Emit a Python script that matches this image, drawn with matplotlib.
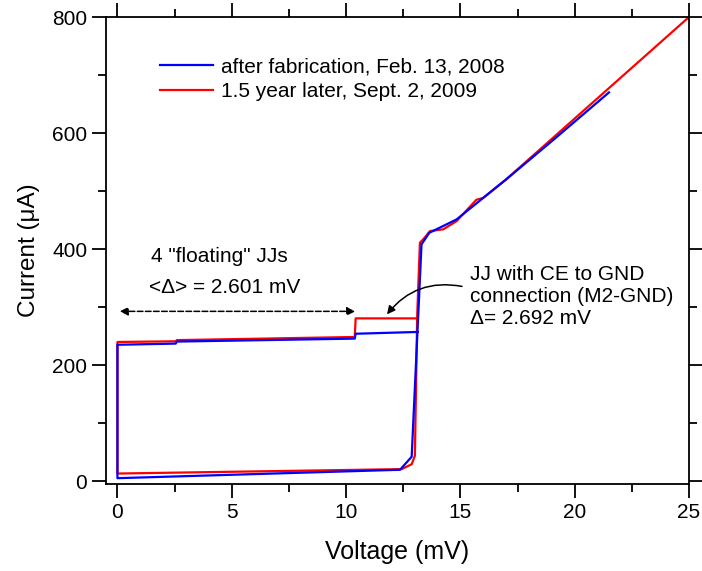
import matplotlib.pyplot as plt
from matplotlib.ticker import MultipleLocator

plt.rcParams['font.family'] = ['Liberation Sans', 'DejaVu Sans']

# I-V trace right after fabrication (mV, uA)
v_fab = [21.5, 19.0, 17.0, 14.83, 13.64, 13.3, 12.87, 12.36, 0.0,
         0.0, 2.55, 2.6, 10.38, 10.42, 13.06, 13.12]
i_fab = [670, 586, 520, 451, 428, 408, 42, 19.5, 5,
         235, 237, 240.5, 245.6, 254, 257, 257]

# I-V trace 1.5 years later
v_late = [25.0, 20.0, 17.0, 15.99, 15.7, 14.83, 14.25, 13.67, 13.37, 13.23,
          13.11, 13.01, 12.87, 12.43, 0.0,
          0.0, 2.55, 2.6, 10.38, 10.42, 13.01, 13.08]
i_late = [800, 625, 520, 488, 485, 448, 434, 431, 416.5, 411,
          284, 43.6, 29, 20.6, 13,
          239.8, 241, 243, 248.4, 280.5, 280.5, 280.5]

fig = plt.figure(figsize=(7.02, 5.71), dpi=100)
ax = fig.add_axes([0.151, 0.1524, 0.8305, 0.8178])

ax.plot(v_fab, i_fab, color='#0000ff', lw=1.6, zorder=3,
        label='after fabrication, Feb. 13, 2008')
ax.plot(v_late, i_late, color='#ff0000', lw=1.6,
        label='1.5 year later, Sept. 2, 2009')

ax.set_xlim(-0.5, 25)
ax.set_ylim(-5, 800)
ax.xaxis.set_major_locator(MultipleLocator(5))
ax.xaxis.set_minor_locator(MultipleLocator(2.5))
ax.yaxis.set_major_locator(MultipleLocator(200))
ax.yaxis.set_minor_locator(MultipleLocator(100))

ax.tick_params(which='both', labelsize=15, width=1.3)
ax.tick_params(which='major', length=10)
ax.tick_params(which='minor', length=6)
ax.tick_params(which='both', top=True, right=True, direction='out')
# top and right ticks point into the plot
for t in ax.xaxis.get_ticklines(minor=False)[1::2] + ax.xaxis.get_ticklines(minor=True)[1::2]:
    t.set_marker(2)
for t in ax.yaxis.get_ticklines(minor=False)[1::2] + ax.yaxis.get_ticklines(minor=True)[1::2]:
    t.set_marker(1)
for s in ax.spines.values():
    s.set_linewidth(1.3)

ax.set_xlabel('Voltage (mV)', fontsize=18, labelpad=13)
ax.set_ylabel('Current (\u03bcA)', fontsize=17.5, labelpad=9)

ax.legend(loc='upper left', bbox_to_anchor=(0.093, 0.914), frameon=False,
          fontsize=15, handlelength=2.55, handletextpad=0.37,
          labelspacing=0.29, borderpad=0, borderaxespad=0)

ax.text(1.47, 387, '4 "floating" JJs', fontsize=15, va='center')
ax.text(1.40, 334, '<\u0394> = 2.601 mV', fontsize=15, va='center')
ax.annotate('', xy=(0.1, 292.6), xytext=(10.4, 292.6),
            arrowprops=dict(arrowstyle='<|-|>', ls='--', lw=1.1,
                            color='black', mutation_scale=12,
                            shrinkA=0, shrinkB=0))

ax.text(15.4, 318, 'JJ with CE to GND\nconnection (M2-GND)\n\u0394= 2.692 mV',
        fontsize=15, va='center', linespacing=1.2)
ax.annotate('', xy=(11.79, 287.4), xytext=(15.07, 335.6),
            arrowprops=dict(arrowstyle='-|>', lw=1.1, color='black',
                            mutation_scale=12, shrinkA=0, shrinkB=0,
                            connectionstyle='arc3,rad=0.3'))

fig.savefig('out.png', dpi=100)
